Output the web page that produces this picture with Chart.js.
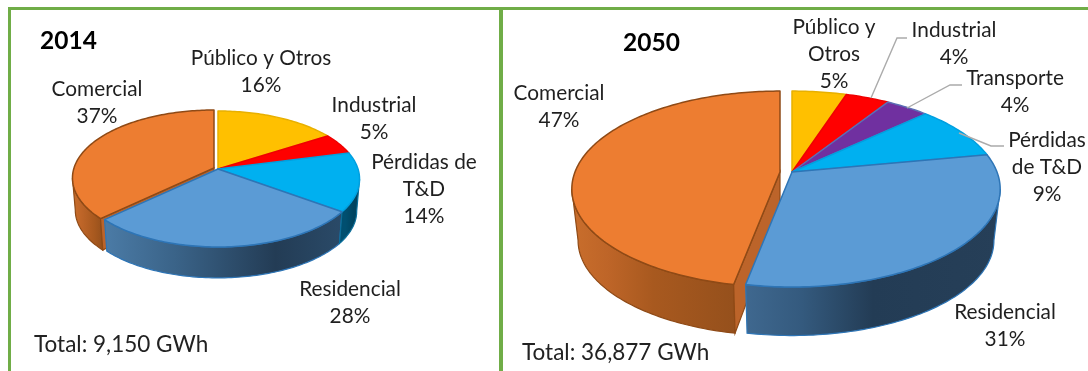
<!DOCTYPE html>
<html><head><meta charset="utf-8">
<script src="https://cdn.jsdelivr.net/npm/chart.js@4"></script>
<style>
html,body{margin:0;padding:0;background:#fff;overflow:hidden}
#page{position:relative;width:1088px;height:371px;overflow:hidden;background:#fff}
canvas{position:absolute;top:0}
.g{position:absolute;background:#70AD47}
</style></head><body>
<div id="page">
<canvas id="c1" width="500" height="371" style="left:0"></canvas>
<canvas id="c2" width="588" height="371" style="left:500px"></canvas>
<div class="g" style="left:8px;top:7px;width:1080px;height:3px"></div>
<div class="g" style="left:8px;top:7px;width:3px;height:364px"></div>
<div class="g" style="left:499px;top:7px;width:4px;height:364px"></div>
</div>
<script>
// ---- data ----
const categories2014 = ['Público y Otros', 'Industrial', 'Pérdidas de\nT&D', 'Residencial', 'Comercial'];
const values2014     = [16, 5, 14, 28, 37];
const colors2014     = ['#FFC000', '#FF0000', '#00B0F0', '#5B9BD5', '#ED7D31'];
const total2014      = 'Total: 9,150 GWh';

const categories2050 = ['Público y\nOtros', 'Industrial', 'Transporte', 'Pérdidas\nde T&D', 'Residencial', 'Comercial'];
const values2050     = [5, 4, 4, 9, 31, 47];
const colors2050     = ['#FFC000', '#FF0000', '#7030A0', '#00B0F0', '#5B9BD5', '#ED7D31'];
const total2050      = 'Total: 36,877 GWh';

// ---- styles & layout ----
const FONT = 'Lato, Carlito, sans-serif';
const TXT = '#1f1f1f';
const edge = {'#FFC000':'#E8B000','#FF0000':'#F00000','#7030A0':'#5B6FB5','#00B0F0':'#00A0E0','#5B9BD5':'#2E75B6','#ED7D31':'#8F4A16'};
const wallEdge = {'#5B9BD5':'#2E75B6','#ED7D31':'#8F4A16','#00B0F0':'#0A6E9A'};
const wall = {
  '#5B9BD5':['#4B7BA6','#3A6388','#233C55','#2A4A68'],
  '#ED7D31':['#C96E2C','#BE6528','#A8591F','#95501C'],
  '#00B0F0':['#004F70','#004F70','#00435F','#00435F']
};
const wall2050 = Object.assign({}, wall, {'#5B9BD5':['#3F688F','#345A7E','#233C55','#263F58']});
const layout2014 = {
  ax:218, ay:169, a:140, b:66.5, p:.147, h:32.5, k:.98,
  explode:{4:[-4,-1]}, stops:[0,.3,.72,1], wall:wall,
  title:{t:'2014', x:40, y:41},
  total:{x:34, y:345},
  labels:[[261,58],[374,105],[424,162],[350,289],[97,89]],
  leaders:[]
};
const layout2050 = {
  ax:292, ay:172, a:205, b:95, p:.174, h:52, k:.97,
  explode:{5:[-12,0]}, stops:[0,.22,.5,1], wall:wall2050,
  title:{t:'2050', x:123, y:43},
  total:{x:22, y:353},
  labels:[[334,27],[454,30],[515,78],[547,140],[505,312],[59,93]],
  leaders:[[[371,98],[397,38],[407,38]],[[407,108],[450,85],[462,85]],[[459,133],[491,146],[504,146]]]
};
const LH = 27;

function proj(L, th, off, base){
  const u=Math.sin(th), v=-Math.cos(th), s=1/(1-L.p*v);
  let x=u*L.a*s, y=v*L.b*s;
  if(base){x*=L.k; y=y*L.k+L.h;}
  return [L.ax+x+off[0], L.ay+y+off[1]];
}
function arcPts(L,t0,t1,off,base){
  const n=Math.max(2,Math.ceil(Math.abs(t1-t0)/.02)), r=[];
  for(let i=0;i<=n;i++) r.push(proj(L,t0+(t1-t0)*i/n,off,base));
  return r;
}
function trace(ctx,pts,first){pts.forEach((p,i)=>{(i||!first)?ctx.lineTo(p[0],p[1]):ctx.moveTo(p[0],p[1]);});}

const pie3d = {
  id:'pie3d',
  beforeDatasetsDraw(chart,args,opts){
    const L=opts.layout, ctx=chart.ctx, meta=chart.getDatasetMeta(0);
    const lim=Math.acos(-L.p), lo=lim, hi=2*Math.PI-lim;
    [...meta.data].map((el,i)=>[el,i]).reverse().forEach(([el,i])=>{
      const col=el.options.backgroundColor, off=L.explode[i]||[0,0];
      const t0=el.startAngle+Math.PI/2, t1=el.endAngle+Math.PI/2;
      const w=L.wall[col];
      const a0=Math.max(t0,lo), a1=Math.min(t1,hi);
      if(a1>a0 && w){
        const top=arcPts(L,a0,a1,off,false), bot=arcPts(L,a1,a0,off,true);
        const xs=top.concat(bot).map(p=>p[0]), x0=Math.min(...xs), x1=Math.max(...xs);
        const g=ctx.createLinearGradient(x0,0,x1,0);
        w.forEach((c,j)=>g.addColorStop(L.stops[j],c));
        ctx.beginPath();trace(ctx,top,true);trace(ctx,bot,false);ctx.closePath();
        ctx.fillStyle=g;ctx.fill();
        ctx.strokeStyle=wallEdge[col];ctx.lineWidth=1.2;ctx.stroke();
      }
      // radial cut face of an exploded slice
      if(L.explode[i]){
        const c=proj(L,t0,off,false), d=proj(L,t0,off,true);
        const cx=L.ax+off[0], cy=L.ay+off[1];
        ctx.beginPath();ctx.moveTo(cx,cy);ctx.lineTo(c[0],c[1]);ctx.lineTo(d[0],d[1]);ctx.lineTo(cx,cy+L.h*.8);ctx.closePath();
        ctx.fillStyle='#BC642A';ctx.fill();ctx.strokeStyle=edge[col];ctx.lineWidth=1.2;ctx.stroke();
      }
      el.draw=function(c){
        c.save();
        c.beginPath();c.moveTo(L.ax+off[0],L.ay+off[1]);trace(c,arcPts(L,t0,t1,off,false),false);c.closePath();
        c.fillStyle=this.options.backgroundColor;c.fill();
        c.strokeStyle=this.options.borderColor;c.lineWidth=this.options.borderWidth;c.lineJoin='round';c.stroke();
        c.restore();
      };
    });
  },
  afterDraw(chart,args,opts){
    const L=opts.layout, ctx=chart.ctx, ds=chart.data;
    ctx.save();
    ctx.strokeStyle='#ABABAB';ctx.lineWidth=1.4;
    L.leaders.forEach(l=>{ctx.beginPath();trace(ctx,l,true);ctx.stroke();});
    ctx.fillStyle=TXT;ctx.textBaseline='middle';ctx.textAlign='center';ctx.font='20.8px '+FONT;
    ds.labels.forEach((lab,i)=>{
      const lines=lab.split('\n').concat([ds.datasets[0].data[i]+'%']);
      lines.forEach((s,j)=>ctx.fillText(s,L.labels[i][0],L.labels[i][1]+j*LH));
    });
    ctx.textAlign='left';
    ctx.font='22.5px '+FONT;ctx.fillStyle='#222';ctx.fillText(opts.total,L.total.x,L.total.y);
    ctx.font='bold 24.5px '+FONT;ctx.fillStyle='#000';ctx.fillText(L.title.t,L.title.x,L.title.y);
    ctx.restore();
  }
};

function make(id,cats,vals,cols,L,total){
  return new Chart(document.getElementById(id),{
    type:'pie',
    data:{labels:cats,datasets:[{data:vals,backgroundColor:cols,borderColor:cols.map(c=>edge[c]),borderWidth:1.5}]},
    options:{responsive:false,animation:false,events:[],
      plugins:{legend:{display:false},tooltip:{enabled:false},pie3d:{layout:L,total:total}}},
    plugins:[pie3d]
  });
}
make('c1',categories2014,values2014,colors2014,layout2014,total2014);
make('c2',categories2050,values2050,colors2050,layout2050,total2050);
</script>
</body></html>
